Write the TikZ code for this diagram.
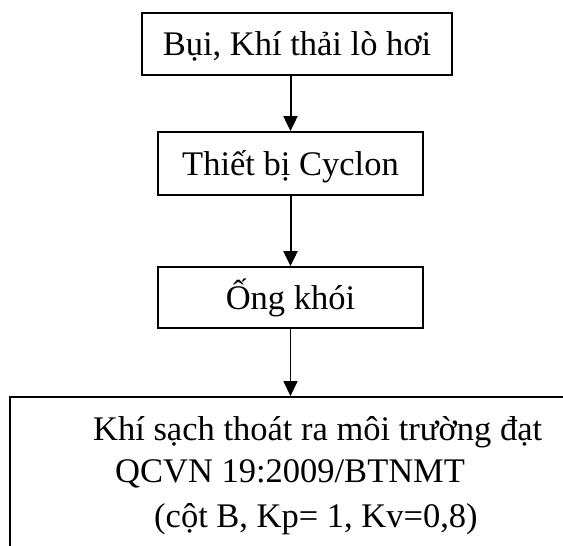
\documentclass[tikz,border=0pt]{standalone}
\usepackage{fontspec}
\setmainfont{Liberation Serif}
\usetikzlibrary{arrows.meta}
\begin{document}
\begin{tikzpicture}[x=1pt,y=1pt,
 box/.style={draw, line width=1.8pt, inner sep=0pt, text height=27pt, text depth=4pt, font=\fontsize{34.5}{40}\selectfont},
 flow/.style={line width=2pt, -{Triangle[width=14pt,length=15pt]}},
 thinflow/.style={line width=1.3pt, -{Triangle[width=14pt,length=15pt]}},
 txt/.style={anchor=base west, inner sep=0pt, font=\fontsize{34.5}{40}\selectfont}]
\useasboundingbox (0,0) rectangle (563,-546);
\node[box, minimum width=310pt, minimum height=62pt] (b1) at (297,-44) {Bụi, Khí thải lò hơi};
\node[box, minimum width=265pt, minimum height=63pt] (b2) at (290.5,-163.5) {Thiết bị Cyclon};
\node[box, minimum width=265pt, minimum height=61pt] (b3) at (290.5,-297.5) {Ống khói};
\begin{scope}
\clip (0,0) rectangle (563,-546);
\node[draw, line width=1.8pt, inner sep=0pt, minimum width=610pt, minimum height=203pt] (b4) at (315,-498.5) {};
\end{scope}
\node[txt] (t1) at (93,-440) {Khí sạch thoát ra môi trường đạt};
\node[txt] (t2) at (115,-482) {QCVN 19:2009/BTNMT};
\node[txt] (t3) at (154,-527) {(cột B, Kp= 1, Kv=0,8)};
\draw[flow] (b1.south -| b2.north) -- (b2.north);
\draw[flow] (b2.south) -- (b3.north);
\draw[thinflow] (b3.south) -- (b3.south |- b4.north);
\end{tikzpicture}
\end{document}
